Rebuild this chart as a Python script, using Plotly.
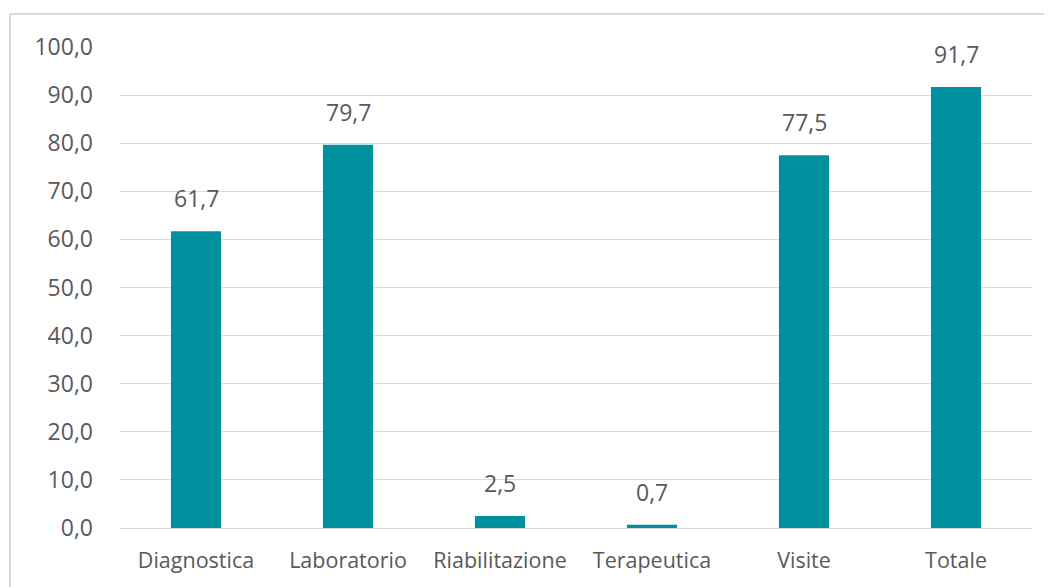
import plotly.graph_objects as go

categories = ["Diagnostica", "Laboratorio", "Riabilitazione", "Terapeutica", "Visite", "Totale"]
values = [61.7, 79.7, 2.5, 0.7, 77.5, 91.7]
y_ticks = [0, 10, 20, 30, 40, 50, 60, 70, 80, 90, 100]

bar_color = "#00919E"
text_color = "#595959"
font_family = "Open Sans, Noto Sans, sans-serif"

fig = go.Figure(go.Bar(
    x=categories, y=values, marker=dict(color=bar_color, line=dict(width=0)),
    width=0.33, hoverinfo="skip"
))

for c, v in zip(categories, values):
    fig.add_annotation(x=c, y=v, text=f"{v:.1f}".replace(".", ","), showarrow=False,
                       yshift=33, font=dict(size=23, color=text_color, family=font_family))

# chart border (top and left)
fig.add_shape(type="line", xref="paper", yref="paper", x0=-0.1206, x1=1.03, y0=1.0686, y1=1.0686,
              line=dict(color="#D9D9D9", width=2))
fig.add_shape(type="line", xref="paper", yref="paper", x0=-0.1206, x1=-0.1206, y0=1.0686, y1=-0.2,
              line=dict(color="#D9D9D9", width=2))

fig.update_layout(
    width=1044, height=579,
    margin=dict(l=112, r=20, t=39, b=59),
    paper_bgcolor="white", plot_bgcolor="white",
    separators=",.",
    showlegend=False,
    font=dict(family=font_family, color=text_color, size=15),
    bargap=0.67,
)
fig.update_xaxes(showgrid=False, showline=False, ticks="", ticklabelstandoff=17,
                 tickfont=dict(size=21.5, color=text_color))
fig.update_yaxes(range=[0, 100], tickvals=y_ticks, tickformat=".1f", showgrid=True,
                 gridcolor="#D9D9D9", gridwidth=1, zeroline=True, zerolinecolor="#D9D9D9",
                 zerolinewidth=1, showline=False, ticks="", ticklabelstandoff=26,
                 tickfont=dict(size=23, color=text_color))

fig.write_html("out.html")
